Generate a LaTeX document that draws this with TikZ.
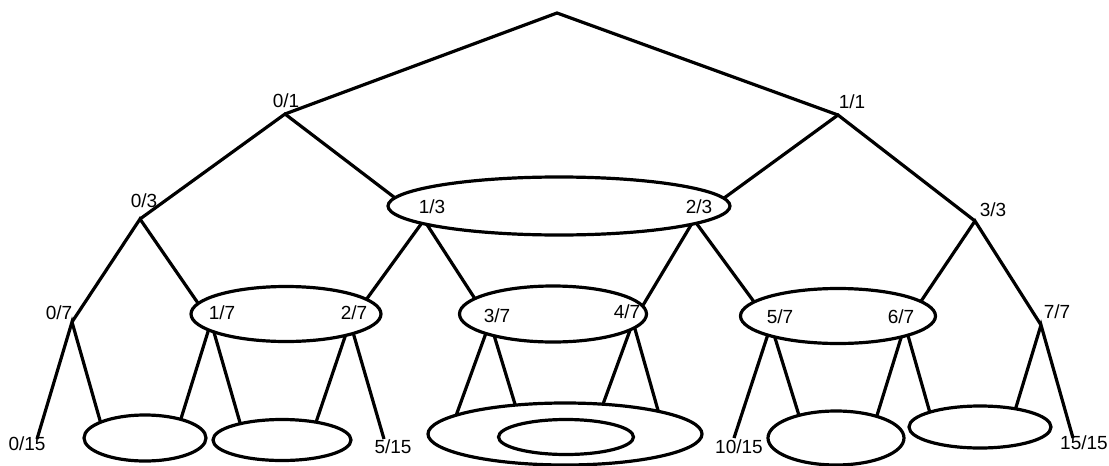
\documentclass[tikz,border=0pt]{standalone}
\usepackage{fontspec}
\setmainfont{Liberation Sans}
\usetikzlibrary{shapes.geometric}
\begin{document}
\begin{tikzpicture}[x=1pt,y=-1pt,
  edge/.style={line width=3.2pt},
  grp/.style={ellipse, draw, fill=white, line width=3.2pt, inner sep=0pt},
  lab/.style={font=\fontsize{19}{19}\selectfont, inner sep=0pt}]
\useasboundingbox (0,0) rectangle (1109,466);
% tree vertices
\coordinate (root) at (557,13);
\coordinate (v01) at (285,114);
\coordinate (v11) at (838,115);
\coordinate (v03) at (140,219);
\coordinate (v13) at (424,220);
\coordinate (v23) at (694,220);
\coordinate (v33) at (975,221);
\coordinate (v07) at (72,322);
\coordinate (v17) at (211,322);
\coordinate (v27) at (350,322);
\coordinate (v37) at (490,322);
\coordinate (v47) at (633,322);
\coordinate (v57) at (771,325);
\coordinate (v67) at (905,325);
\coordinate (v77) at (1041,325);
\coordinate (l0) at (37,439);
\coordinate (l1) at (105,438);
\coordinate (l2) at (175,438);
\coordinate (l3) at (245,440);
\coordinate (l4) at (310,440);
\coordinate (l5) at (384,439);
\coordinate (l6) at (449,435);
\coordinate (l7) at (525,437);
\coordinate (l8) at (591,437);
\coordinate (l9) at (665,435);
\coordinate (l10) at (734,438);
\coordinate (l11) at (806,438);
\coordinate (l12) at (870,438);
\coordinate (l13) at (934,427);
\coordinate (l14) at (1010,427);
\coordinate (l15) at (1073,438);
% edges
\draw[edge] (v01) -- (root) -- (v11);
\draw[edge] (v03) -- (v01) -- (v13);
\draw[edge] (v23) -- (v11) -- (v33);
\draw[edge] (v07) -- (v03) -- (v17);
\draw[edge] (v27) -- (v13) -- (v37);
\draw[edge] (v47) -- (v23) -- (v57);
\draw[edge] (v67) -- (v33) -- (v77);
\draw[edge] (l0) -- (v07) -- (l1);
\draw[edge] (l2) -- (v17) -- (l3);
\draw[edge] (l4) -- (v27) -- (l5);
\draw[edge] (l6) -- (v37) -- (l7);
\draw[edge] (l8) -- (v47) -- (l9);
\draw[edge] (l10) -- (v57) -- (l11);
\draw[edge] (l12) -- (v67) -- (l13);
\draw[edge] (l14) -- (v77) -- (l15);
% groups
\node[grp, minimum width=342pt, minimum height=58pt] (gA) at (559,206) {};
\node[grp, minimum width=190pt, minimum height=55pt] (gB1) at (286,314) {};
\node[grp, minimum width=187pt, minimum height=56pt] (gB2) at (553,314) {};
\node[grp, minimum width=195pt, minimum height=55pt] (gB3) at (838,316) {};
\node[grp, minimum width=122pt, minimum height=46pt] (gC1) at (145,438) {};
\node[grp, minimum width=138pt, minimum height=41pt] (gC2) at (282,440) {};
\node[grp, minimum width=274pt, minimum height=62pt] (gD) at (565,434) {};
\node[grp, minimum width=135pt, minimum height=35pt] (gDi) at (566,437) {};
\node[grp, minimum width=136pt, minimum height=54pt] (gC4) at (836,438) {};
\node[grp, minimum width=142pt, minimum height=42pt] (gC5) at (980,427) {};
% labels
\node[lab] (t01) at (286,101) {0/1};
\node[lab] (t11) at (852,102) {1/1};
\node[lab] (t03) at (144,201) {0/3};
\node[lab] (t13) at (432,207) {1/3};
\node[lab] (t23) at (699,207) {2/3};
\node[lab] (t33) at (993,210) {3/3};
\node[lab] (t07) at (59,313) {0/7};
\node[lab] (t17) at (222,313) {1/7};
\node[lab] (t27) at (354,313) {2/7};
\node[lab] (t37) at (497,316) {3/7};
\node[lab] (t47) at (627,312) {4/7};
\node[lab] (t57) at (780,317) {5/7};
\node[lab] (t67) at (901,317) {6/7};
\node[lab] (t77) at (1057,312) {7/7};
\node[lab] (t015) at (27,444) {0/15};
\node[lab] (t515) at (393,447) {5/15};
\node[lab] (t1015) at (739,447) {10/15};
\node[lab] (t1515) at (1084,443) {15/15};
\end{tikzpicture}
\end{document}
